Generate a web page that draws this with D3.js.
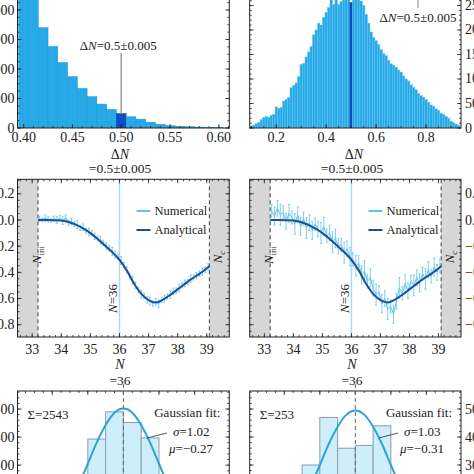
<!DOCTYPE html>
<html>
<head>
<meta charset="utf-8">
<script src="https://cdn.jsdelivr.net/npm/d3@7"></script>
<style>
  body { margin: 0; background: #fff; }
  svg { display: block; }
  text { font-family: "Liberation Serif", "DejaVu Serif", serif; fill: #222; }
</style>
</head>
<body>
<script>
// ---- data ----
// top row: histograms of deltaN (bin width 0.01, value = bin centre)
const binsTopLeft = [0.40,0.41,0.42,0.43,0.44,0.45,0.46,0.47,0.48,0.49,0.50,0.51,0.52,0.53,0.54,0.55,0.56,0.57,0.58,0.59,0.60];
const countsTopLeft = [5400,4500,3400,2760,2220,1740,1340,1060,810,630,490,380,300,195,125,80,57,44,32,22,11];

const binsTopRight = [0.10,0.11,0.12,0.13,0.14,0.15,0.16,0.17,0.18,0.19,
  0.20,0.21,0.22,0.23,0.24,0.25,0.26,0.27,0.28,0.29,
  0.30,0.31,0.32,0.33,0.34,0.35,0.36,0.37,0.38,0.39,
  0.40,0.41,0.42,0.43,0.44,0.45,0.46,0.47,0.48,0.49,
  0.50,0.51,0.52,0.53,0.54,0.55,0.56,0.57,0.58,0.59,
  0.60,0.61,0.62,0.63,0.64,0.65,0.66,0.67,0.68,0.69,
  0.70,0.71,0.72,0.73,0.74,0.75,0.76,0.77,0.78,0.79,
  0.80,0.81,0.82,0.83,0.84,0.85,0.86,0.87,0.88,0.89,
  0.90,0.91,0.92,0.93];
const countsTopRight = [4,6,9,11,17,21,23,22,26,28,
  43,40,42,55,58,62,82,87,92,105,
  130,132,145,155,166,190,200,214,210,226,
  236,246,262,252,268,252,258,270,265,280,
  256,275,268,280,259,250,232,214,196,185,
  178,170,160,152,148,138,131,128,124,118,
  114,106,100,96,88,83,78,70,66,63,
  58,52,47,44,39,36,30,28,24,20,
  14,11,8,6];
const highlightBin = 0.50;

// middle row: numerical points (with errors) and analytical curve
const numN = [33.25,33.35,33.45,33.55,33.65,33.75,33.85,33.95,34.05,34.15,
  34.25,34.35,34.45,34.55,34.65,34.75,34.85,34.95,35.05,35.15,
  35.25,35.35,35.45,35.55,35.65,35.75,35.85,35.95,36.05,36.15,
  36.25,36.35,36.45,36.55,36.65,36.75,36.85,36.95,37.05,37.15,
  37.25,37.35,37.45,37.55,37.65,37.75,37.85,37.95,38.05,38.15,
  38.25,38.35,38.45,38.55,38.65,38.75,38.85,38.95,39.05];
const numLeft = [0.01,0.00,0.015,0.005,-0.005,0.01,0.00,0.015,-0.005,0.02,
  -0.02,-0.01,-0.03,-0.035,-0.06,-0.055,-0.085,-0.09,-0.10,-0.125,
  -0.14,-0.155,-0.175,-0.20,-0.215,-0.24,-0.265,-0.28,-0.31,-0.345,
  -0.38,-0.43,-0.46,-0.50,-0.535,-0.565,-0.58,-0.61,-0.62,-0.64,
  -0.625,-0.64,-0.61,-0.60,-0.585,-0.57,-0.545,-0.54,-0.52,-0.50,
  -0.485,-0.475,-0.45,-0.44,-0.425,-0.41,-0.395,-0.38,-0.36];
const errLeft = [0.02,0.015,0.025,0.02,0.015,0.02,0.025,0.02,0.03,0.02,
  0.02,0.025,0.02,0.03,0.02,0.025,0.02,0.03,0.02,0.025,
  0.02,0.03,0.02,0.025,0.02,0.03,0.025,0.02,0.03,0.02,
  0.025,0.02,0.03,0.025,0.02,0.03,0.02,0.025,0.03,0.02,
  0.025,0.03,0.02,0.025,0.02,0.03,0.025,0.02,0.03,0.02,
  0.025,0.02,0.03,0.02,0.025,0.02,0.03,0.02,0.025];
const numRight = [0.07,0.03,0.09,0.04,0.06,-0.01,0.05,0.02,-0.03,0.04,
  -0.05,0.01,-0.06,-0.02,-0.08,-0.03,-0.07,-0.10,-0.05,-0.12,
  -0.10,-0.17,-0.14,-0.20,-0.19,-0.25,-0.22,-0.28,-0.30,-0.35,
  -0.33,-0.42,-0.39,-0.47,-0.44,-0.52,-0.57,-0.55,-0.64,-0.60,
  -0.68,-0.66,-0.72,-0.62,-0.52,-0.56,-0.49,-0.54,-0.47,-0.50,
  -0.44,-0.48,-0.41,-0.45,-0.38,-0.43,-0.36,-0.40,-0.35];
const errRight = [0.05,0.07,0.06,0.08,0.05,0.06,0.07,0.05,0.08,0.06,
  0.07,0.05,0.08,0.06,0.07,0.05,0.06,0.08,0.07,0.05,
  0.06,0.08,0.07,0.06,0.05,0.08,0.06,0.07,0.05,0.08,
  0.06,0.07,0.08,0.05,0.07,0.06,0.08,0.05,0.07,0.06,
  0.08,0.05,0.07,0.06,0.08,0.05,0.07,0.06,0.05,0.08,
  0.06,0.07,0.05,0.08,0.06,0.05,0.07,0.06,0.05];
const anaN = [33.2,33.5,34.0,34.25,34.5,34.75,35.0,35.25,35.5,35.75,36.0,36.25,36.5,36.75,37.0,37.25,37.5,37.75,38.0,38.25,38.5,38.75,39.1];
const anaV = [0,0,-0.004,-0.015,-0.035,-0.064,-0.100,-0.145,-0.195,-0.245,-0.305,-0.385,-0.485,-0.565,-0.612,-0.630,-0.608,-0.572,-0.530,-0.488,-0.447,-0.412,-0.352];
const nIni = 33.2, nC = 39.09, nMark = 36;

// bottom row: histograms of the standardised residual (bin width 0.5)
const binsBottom = [-3,-2.5,-2,-1.5,-1,-0.5,0,0.5,1,1.5,2,2.5];   // lower edges
const countsBottomLeft = [12,35,105,245,393,490,452,397,235,115,45,19];
const countsBottomRight = [0,4,13,30,47,36,37,44,25,12,4,1];
const gaussX = [-1.75,-1.5,-1.25,-1,-0.75,-0.5,-0.25,0,0.25,0.5,0.75,1,1.25,1.5,1.75];
const gaussLeft = [108,164,231,305,380,443,487,502,487,443,380,305,231,164,108];
const gaussRight = [10.7,16.2,22.7,30.0,37.5,43.7,48.0,49.5,48.0,43.7,37.5,30.0,22.7,16.2,10.7];

// ---- layout ----
const svg = d3.select("body").append("svg").attr("width", 474).attr("height", 474);
const defs = svg.append("defs");
const colL = {l: 17.5, r: 229.3}, colR = {l: 249.7, r: 461};
const rowTop = {t: -12, b: 128}, rowMid = {t: 179.3, b: 337}, rowBot = {t: 391, b: 493};
let clipCount = 0;

function makePanel(col, row, xDom, yDom) {
  const box = {l: col.l, r: col.r, t: row.t, b: row.b};
  const x = d3.scaleLinear().domain(xDom).range([box.l, box.r]);
  const y = d3.scaleLinear().domain(yDom).range([box.b, box.t]);
  const id = "clip" + (clipCount++);
  defs.append("clipPath").attr("id", id).append("rect")
    .attr("x", box.l).attr("y", box.t).attr("width", box.r - box.l).attr("height", box.b - box.t);
  const g = svg.append("g");
  const inner = g.append("g").attr("clip-path", "url(#" + id + ")");
  return {x, y, g, inner, box};
}

function steps(a, b, s) {
  return d3.range(Math.round(a / s), Math.round(b / s) + 1).map(i => +(i * s).toFixed(6));
}

// frame with Mathematica-like ticks on all four sides
function drawFrame(p, xMaj, xMin, yMaj, yMin) {
  const {g, x, y, box} = p;
  const t = g.append("g").attr("stroke", "#222").attr("stroke-width", 0.8);
  const inX = v => v >= x.domain()[0] && v <= x.domain()[1];
  const inY = v => v >= y.domain()[0] && v <= y.domain()[1];
  [[xMaj, 4], [xMin, 2]].forEach(([vals, len]) => {
    vals.filter(inX).forEach(v => {
      t.append("line").attr("x1", x(v)).attr("x2", x(v)).attr("y1", box.b).attr("y2", box.b - len);
      t.append("line").attr("x1", x(v)).attr("x2", x(v)).attr("y1", box.t).attr("y2", box.t + len);
    });
  });
  [[yMaj, 4], [yMin, 2]].forEach(([vals, len]) => {
    vals.filter(inY).forEach(v => {
      t.append("line").attr("y1", y(v)).attr("y2", y(v)).attr("x1", box.l).attr("x2", box.l + len);
      t.append("line").attr("y1", y(v)).attr("y2", y(v)).attr("x1", box.r).attr("x2", box.r - len);
    });
  });
  g.append("rect").attr("x", box.l).attr("y", box.t)
    .attr("width", box.r - box.l).attr("height", box.b - box.t)
    .attr("fill", "none").attr("stroke", "#222").attr("stroke-width", 1);
}

function xLabels(p, vals, fmt, yBase) {
  p.g.selectAll(null).data(vals).enter().append("text")
    .attr("x", d => p.x(d)).attr("y", yBase)
    .attr("text-anchor", "middle").style("font-size", "14px")
    .text(fmt);
}
function yLabels(p, vals, fmt, side) {
  p.g.selectAll(null).data(vals).enter().append("text")
    .attr("x", side === "left" ? p.box.l - 3 : p.box.r + 4)
    .attr("y", d => p.y(d) + 4.5)
    .attr("text-anchor", side === "left" ? "end" : "start")
    .style("font-size", "14px")
    .text(fmt);
}
const minus = s => s.replace("-", "\u2212");

// deltaN text helper: upright Delta, italic N
function deltaN(sel) {
  sel.append("tspan").text("\u0394");
  sel.append("tspan").style("font-style", "italic").text("N");
  return sel;
}

// ---- top row ----
function topHist(p, bins, counts, w, fill, edge) {
  p.inner.selectAll("rect.bar").data(bins).enter().append("rect")
    .attr("class", "bar")
    .attr("x", d => p.x(d - w / 2))
    .attr("width", d => p.x(d + w / 2) - p.x(d - w / 2))
    .attr("y", (d, i) => p.y(counts[i]))
    .attr("height", (d, i) => p.y(0) - p.y(counts[i]))
    .attr("fill", d => Math.abs(d - highlightBin) < 1e-6 ? "#0d4fc0" : fill)
    .attr("stroke", d => Math.abs(d - highlightBin) < 1e-6 ? "#0a3f9e" : edge)
    .attr("stroke-width", 0.5);
}

const pTL = makePanel(colL, rowTop, [0.3937, 0.6107], [0, 4746]);
topHist(pTL, binsTopLeft, countsTopLeft, 0.01, "#27a9e8", "#1a93d2");
drawFrame(pTL, steps(0.40, 0.60, 0.05), steps(0.39, 0.61, 0.01), steps(0, 4000, 1000), steps(0, 4750, 250));
xLabels(pTL, steps(0.40, 0.60, 0.05), d => d3.format(".2f")(d), 141.5);
yLabels(pTL, steps(0, 4000, 1000), d => String(d), "left");
const hiTL = countsTopLeft[binsTopLeft.indexOf(highlightBin)];
pTL.g.append("line").attr("x1", pTL.x(highlightBin)).attr("x2", pTL.x(highlightBin))
  .attr("y1", 53).attr("y2", pTL.y(hiTL)).attr("stroke", "#999").attr("stroke-width", 1.5);
const annTL = pTL.g.append("text").attr("x", pTL.x(highlightBin) - 3).attr("y", 50)
  .attr("text-anchor", "middle").style("font-size", "13px");
deltaN(annTL); annTL.append("tspan").text("=0.5\u00b10.005");
deltaN(svg.append("text").attr("x", 120).attr("y", 159).attr("text-anchor", "middle").style("font-size", "14px"));

const pTR = makePanel(colR, rowTop, [0.0934, 0.940], [0, 285.7]);
topHist(pTR, binsTopRight, countsTopRight, 0.01, "#27a9e8", "#5cc3f0");
drawFrame(pTR, steps(0.2, 0.8, 0.2), steps(0.1, 0.9, 0.05), steps(0, 250, 50), steps(0, 280, 10));
xLabels(pTR, steps(0.2, 0.8, 0.2), d => d3.format(".1f")(d), 142);
yLabels(pTR, steps(0, 250, 50), d => String(d), "right");
pTR.g.append("line").attr("x1", 418).attr("x2", 418).attr("y1", -2).attr("y2", 8)
  .attr("stroke", "#999").attr("stroke-width", 1.2);
const annTR = pTR.g.append("text").attr("x", 418).attr("y", 21.5)
  .attr("text-anchor", "middle").style("font-size", "13px");
deltaN(annTR); annTR.append("tspan").text("=0.5\u00b10.005");
deltaN(svg.append("text").attr("x", 354).attr("y", 159).attr("text-anchor", "middle").style("font-size", "14px"));

// ---- middle row ----
const midX = [32.495, 39.775], midY = [-0.894, 0.311];
const numColor = "#5fc4ee", anaColor = "#1b4f98";

function midPanel(col, values, errs, labelSide, titleX) {
  const p = makePanel(col, rowMid, midX, midY);
  const yb = p.box.t, yt = p.box.b;
  // excluded regions
  p.inner.append("rect").attr("x", p.box.l).attr("y", yb)
    .attr("width", p.x(nIni) - p.box.l).attr("height", yt - yb).attr("fill", "#d6d6d6");
  p.inner.append("rect").attr("x", p.x(nC)).attr("y", yb)
    .attr("width", p.box.r - p.x(nC)).attr("height", yt - yb).attr("fill", "#d6d6d6");
  [nIni, nC].forEach(v => p.inner.append("line")
    .attr("x1", p.x(v)).attr("x2", p.x(v)).attr("y1", yb).attr("y2", yt)
    .attr("stroke", "#333").attr("stroke-width", 0.9).attr("stroke-dasharray", "4,3"));
  // N = 36 marker
  p.inner.append("line").attr("x1", p.x(nMark)).attr("x2", p.x(nMark))
    .attr("y1", yb).attr("y2", yt).attr("stroke", "#a9dcf3").attr("stroke-width", 1.5);
  // numerical data with error bars
  const eb = p.inner.append("g").attr("stroke", numColor).attr("stroke-width", 0.8);
  numN.forEach((n, i) => {
    const cx = p.x(n), lo = p.y(values[i] - errs[i]), hi = p.y(values[i] + errs[i]);
    eb.append("line").attr("x1", cx).attr("x2", cx).attr("y1", lo).attr("y2", hi);
    eb.append("line").attr("x1", cx - 1).attr("x2", cx + 1).attr("y1", lo).attr("y2", lo);
    eb.append("line").attr("x1", cx - 1).attr("x2", cx + 1).attr("y1", hi).attr("y2", hi);
  });
  p.inner.append("path").datum(numN.map((n, i) => [n, values[i]]))
    .attr("d", d3.line().x(d => p.x(d[0])).y(d => p.y(d[1])))
    .attr("fill", "none").attr("stroke", numColor).attr("stroke-width", 1);
  // analytical curve
  p.inner.append("path").datum(anaN.map((n, i) => [n, anaV[i]]))
    .attr("d", d3.line().curve(d3.curveMonotoneX).x(d => p.x(d[0])).y(d => p.y(d[1])))
    .attr("fill", "none").attr("stroke", anaColor).attr("stroke-width", 2);
  drawFrame(p, steps(33, 39, 1), steps(32.6, 39.8, 0.2), steps(-0.8, 0.2, 0.2), steps(-0.85, 0.3, 0.05));
  xLabels(p, steps(33, 39, 1), d => String(d), 354);
  yLabels(p, steps(-0.8, 0.2, 0.2), d => minus(d3.format(".1f")(d)), labelSide);

  // legend
  const lx = p.x(nMark) + 17;
  [["Numerical", numColor, 211], ["Analytical", anaColor, 230]].forEach(([name, c, ly]) => {
    p.g.append("line").attr("x1", lx).attr("x2", lx + 14).attr("y1", ly).attr("y2", ly)
      .attr("stroke", c).attr("stroke-width", 2);
    p.g.append("text").attr("x", lx + 18).attr("y", ly + 4.2).style("font-size", "12.5px").text(name);
  });
  // rotated labels
  const rot = (x0, y0) => p.g.append("text")
    .attr("transform", "translate(" + x0 + "," + y0 + ") rotate(-90)")
    .attr("text-anchor", "middle").style("font-size", "13px");
  const ni = rot(p.x(nIni) + 3, 255);
  ni.append("tspan").style("font-style", "italic").text("N");
  ni.append("tspan").attr("dy", 3).style("font-size", "9px").text("ini");
  const nc = rot(p.x(nC) + 13, 257);
  nc.append("tspan").style("font-style", "italic").text("N");
  nc.append("tspan").attr("dy", 3).style("font-size", "9px").style("font-style", "italic").text("c");
  const nm = rot(p.x(nMark) - 2.5, 298.5);
  nm.append("tspan").style("font-style", "italic").text("N");
  nm.append("tspan").text("=36");

  // titles
  svg.append("text").attr("x", titleX).attr("y", 172.5).attr("text-anchor", "middle")
    .style("font-size", "13.5px").text("=0.5\u00b10.005");
  svg.append("text").attr("x", titleX).attr("y", 369).attr("text-anchor", "middle")
    .style("font-size", "14px").style("font-style", "italic").text("N");
  svg.append("text").attr("x", titleX).attr("y", 384.5).attr("text-anchor", "middle")
    .style("font-size", "13.5px").text("=36");
  return p;
}

midPanel(colL, numLeft, errLeft, "left", 120);
midPanel(colR, numRight, errRight, "right", 352);

// ---- bottom row ----
function botPanel(col, yDom, counts, gauss, yMaj, yMin, side, sumText, sigma, mu, textAnchorX) {
  const p = makePanel(col, rowBot, [-2.975, 2.975], yDom);
  p.inner.selectAll("rect.bar").data(binsBottom).enter().append("rect")
    .attr("x", d => p.x(d)).attr("width", d => p.x(d + 0.5) - p.x(d))
    .attr("y", (d, i) => p.y(counts[i]))
    .attr("height", (d, i) => Math.max(0, p.y(yDom[0]) - p.y(counts[i])))
    .attr("fill", "#cdeefa").attr("stroke", "#8b9ea8").attr("stroke-width", 1);
  p.inner.append("path").datum(gaussX.map((g, i) => [g, gauss[i]]))
    .attr("d", d3.line().curve(d3.curveNatural).x(d => p.x(d[0])).y(d => p.y(d[1])))
    .attr("fill", "none").attr("stroke", "#2aa5d9").attr("stroke-width", 2);
  drawFrame(p, steps(-2, 2, 1), steps(-2.75, 2.75, 0.25), yMaj, yMin);
  yLabels(p, yMaj, d => String(d), side);
  svg.append("line").attr("x1", p.x(0)).attr("x2", p.x(0)).attr("y1", 384).attr("y2", 474)
    .attr("stroke", "#666").attr("stroke-width", 1).attr("stroke-dasharray", "4,3");

  p.g.append("text").attr("x", p.box.l + 10).attr("y", 419).style("font-size", "13px").text(sumText);
  p.g.append("text").attr("x", p.box.r - 9).attr("y", 417).attr("text-anchor", "end")
    .style("font-size", "13px").text("Gaussian fit:");
  const s = p.g.append("text").attr("x", textAnchorX).attr("y", 435.5).style("font-size", "13px");
  s.append("tspan").style("font-style", "italic").text("\u03c3");
  s.append("tspan").text("=" + sigma);
  const m = p.g.append("text").attr("x", textAnchorX - 4).attr("y", 452.5).style("font-size", "13px");
  m.append("tspan").style("font-style", "italic").text("\u03bc");
  m.append("tspan").text("=" + minus(mu));
  p.g.append("line").attr("x1", p.x(0.66)).attr("y1", 438).attr("x2", textAnchorX - 6).attr("y2", 433)
    .attr("stroke", "#444").attr("stroke-width", 0.9);
  return p;
}

botPanel(colL, [200.7, 564.3], countsBottomLeft, gaussLeft, steps(300, 500, 100), steps(220, 560, 20),
  "left", "\u03a3=2543", "1.02", "-0.27", 173);
botPanel(colR, [20, 56.43], countsBottomRight, gaussRight, steps(30, 50, 10), steps(22, 56, 2),
  "right", "\u03a3=253", "1.03", "-0.31", 404);
</script>
</body>
</html>
